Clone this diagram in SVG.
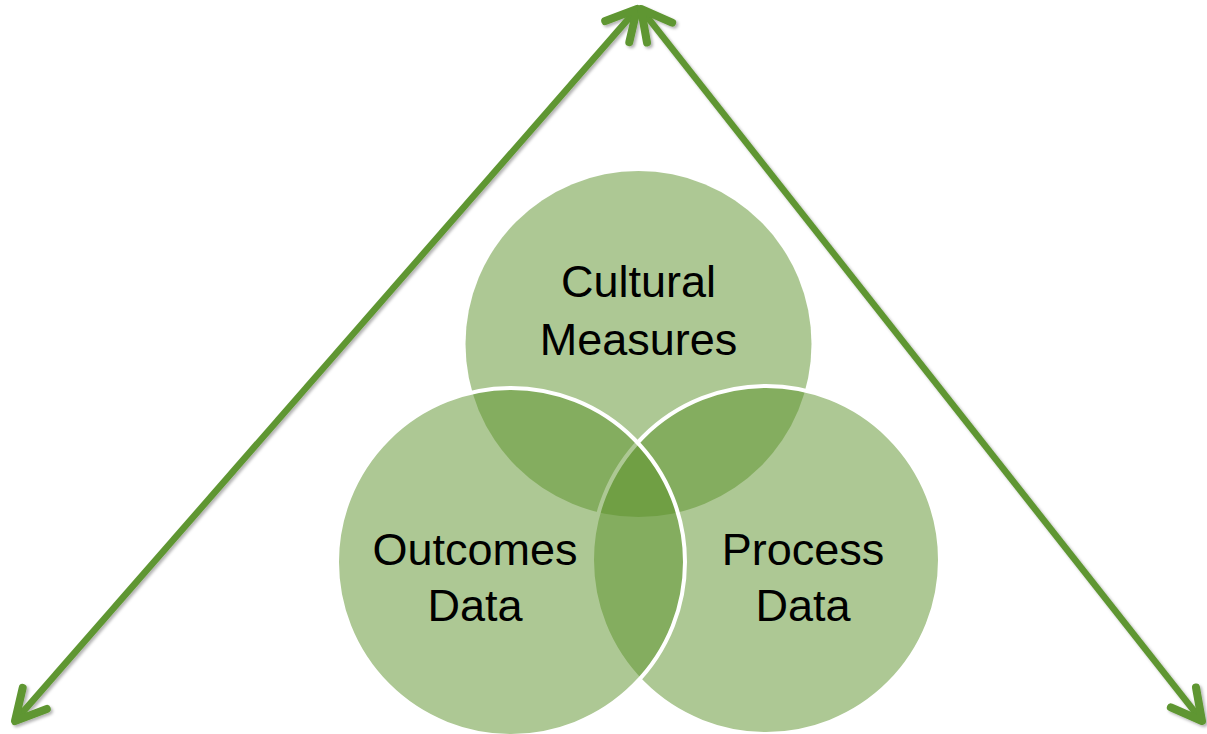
<svg xmlns="http://www.w3.org/2000/svg" width="1207" height="734" viewBox="0 0 1207 734">
  <style>
    .circ { fill: #5B9129; fill-opacity: 0.5; }
    .edge { stroke: #ffffff; stroke-width: 4; }
    .lbl { font-family: "Liberation Sans", Arial, sans-serif; font-size: 45px; fill: #000000; text-anchor: middle; }
    .arrow { fill: none; stroke: #5E9631; stroke-width: 6.5; stroke-linecap: butt; }
  </style>
  <defs>
    <marker id="head" markerUnits="userSpaceOnUse" viewBox="-40 -24 48 48" refX="0" refY="0" markerWidth="48" markerHeight="48" orient="auto-start-reverse" overflow="visible">
      <path d="M -30 -16 L 0 0 L -30 16" fill="none" stroke="#5E9631" stroke-width="8" stroke-linecap="round" stroke-linejoin="round"/>
    </marker>
    <filter id="shadow" x="-10%" y="-10%" width="120%" height="120%">
      <feDropShadow dx="2" dy="2" stdDeviation="1.5" flood-color="#000000" flood-opacity="0.3"/>
    </filter>
  </defs>
  <rect width="1207" height="734" fill="#ffffff"/>

  <g id="connectors" filter="url(#shadow)">
    <path class="arrow" d="M 637 9 L 15 721" marker-start="url(#head)" marker-end="url(#head)"/>
    <path class="arrow" d="M 641 9 L 1202 721" marker-start="url(#head)" marker-end="url(#head)"/>
  </g>

  <g id="node-cultural">
    <circle class="circ" cx="638.5" cy="344" r="173"/>
  </g>
  <g id="node-process">
    <circle class="circ edge" cx="766" cy="560" r="174"/>
  </g>
  <g id="node-outcomes">
    <circle class="circ edge" cx="511" cy="562" r="174"/>
  </g>

  <g id="labels">
    <text class="lbl" x="638.5" y="297">Cultural</text>
    <text class="lbl" x="638.5" y="355">Measures</text>
    <text class="lbl" x="475" y="565">Outcomes</text>
    <text class="lbl" x="475" y="621">Data</text>
    <text class="lbl" x="803" y="565">Process</text>
    <text class="lbl" x="803" y="621">Data</text>
  </g>
</svg>
